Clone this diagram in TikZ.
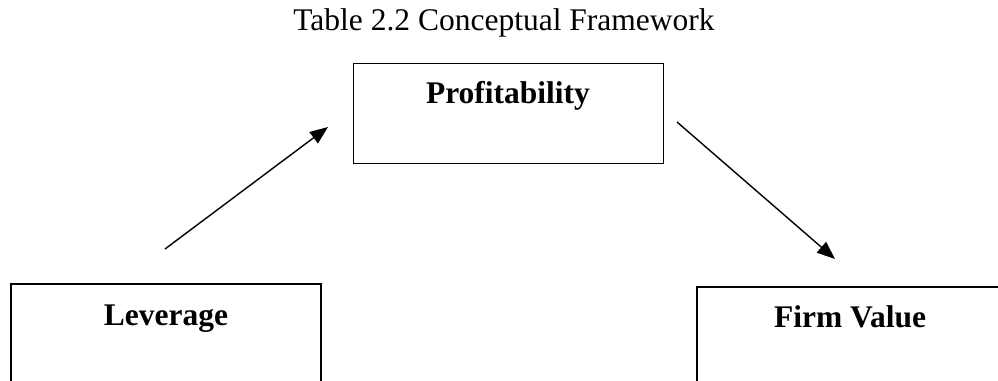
\documentclass[tikz,border=0pt]{standalone}
\usepackage{fontspec}
\setmainfont{Liberation Serif}
\usetikzlibrary{arrows.meta}
\begin{document}
\begin{tikzpicture}[x=1pt,y=1pt,
  box/.style={draw=black,line width=1.6pt,minimum width=310pt,minimum height=100pt,inner sep=0pt},
  caption/.style={anchor=base,inner sep=0pt,font=\fontsize{31.5}{36}\selectfont},
  boxtitle/.style={anchor=base,inner sep=0pt,font=\fontsize{31.5}{36}\selectfont\bfseries},
  link/.style={line width=1.4pt,-{Triangle[length=18pt,width=14pt]}}]
  \clip (0,0) rectangle (998,380);
  \fill[white] (0,0) rectangle (998,380);

  % heading
  \node[caption] (head) at (504,349) {Table 2.2 Conceptual Framework};

  % boxes
  \node[box] (lev) at (166,46) {};
  \node[box] (prof) at (508.5,266.5) {};
  \node[box] (firm) at (852,43) {};

  % box labels
  \node[boxtitle] (levt) at (166,54) {Leverage};
  \node[boxtitle] (proft) at (508,276) {Profitability};
  \node[boxtitle] (firmt) at (850,52) {Firm Value};

  % arrow ends
  \coordinate (a1s) at (165,131);
  \coordinate (a1e) at (328,253);
  \coordinate (a2s) at (677,258);
  \coordinate (a2e) at (835,121);

  \draw[link] (a1s) -- (a1e);
  \draw[link] (a2s) -- (a2e);
\end{tikzpicture}
\end{document}
